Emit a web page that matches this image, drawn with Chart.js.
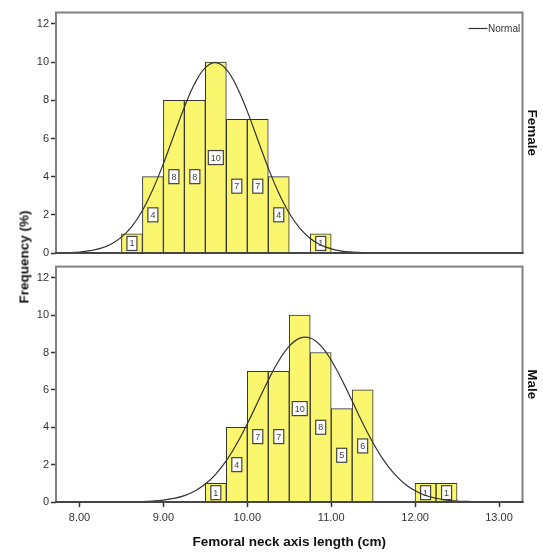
<!DOCTYPE html>
<html>
<head>
<meta charset="utf-8">
<script src="https://cdn.jsdelivr.net/npm/chart.js@4.4.1/dist/chart.umd.min.js"></script>
<style>
  html, body { margin: 0; padding: 0; background: #fff; }
  #wrap { position: relative; width: 543px; height: 554px; overflow: hidden; }
  #chartFemale { position: absolute; left: 0; top: 0; }
  #chartMale { position: absolute; left: 0; top: 258px; }
  #ytitle {
    position: absolute; left: 24px; top: 257px;
    transform: translate(-50%, -50%) rotate(-90deg);
    font: bold 13.5px 'Liberation Sans', Arial, sans-serif;
    color: #111; white-space: nowrap;
  }
</style>
</head>
<body>
<div id="wrap">
  <canvas id="chartFemale" width="543" height="262"></canvas>
  <canvas id="chartMale" width="543" height="296"></canvas>
  <div id="ytitle">Frequency (%)</div>
</div>
<script>
// Histogram bins (width 0.25 cm), midpoints and heights
const femaleMids = [8.625, 8.875, 9.125, 9.375, 9.625, 9.875, 10.125, 10.375, 10.875];
const femaleFreq = [1, 4, 8, 8, 10, 7, 7, 4, 1];
const maleMids = [9.625, 9.875, 10.125, 10.375, 10.625, 10.875, 11.125, 11.375, 12.125, 12.375];
const maleFreq = [1, 4, 7, 7, 10, 8, 5, 6, 1, 1];

// Normal curves
const curveX = [7.75, 7.875, 8, 8.125, 8.25, 8.375, 8.5, 8.625, 8.75, 8.875, 9, 9.125, 9.25, 9.375, 9.5,
  9.625, 9.75, 9.875, 10, 10.125, 10.25, 10.375, 10.5, 10.625, 10.75, 10.875, 11, 11.125, 11.25, 11.375,
  11.5, 11.625, 11.75, 11.875, 12, 12.125, 12.25, 12.375, 12.5, 12.625, 12.75, 12.875, 13, 13.125, 13.25];
const femaleCurve = [0.01, 0.02, 0.05, 0.12, 0.24, 0.46, 0.83, 1.40, 2.23, 3.34, 4.68, 6.17, 7.64, 8.89, 9.71,
  9.97, 9.62, 8.71, 7.42, 5.93, 4.45, 3.14, 2.08, 1.30, 0.76, 0.42, 0.22, 0.10, 0.05, 0.02,
  0.01, 0, 0, 0, 0, 0, 0, 0, 0, 0, 0, 0, 0, 0, 0];
const maleCurve = [0, 0, 0, 0, 0, 0, 0.01, 0.01, 0.02, 0.05, 0.10, 0.19, 0.34, 0.59, 0.96,
  1.49, 2.21, 3.12, 4.19, 5.35, 6.52, 7.56, 8.34, 8.77, 8.78, 8.37, 7.59, 6.56, 5.40, 4.23,
  3.16, 2.24, 1.52, 0.98, 0.60, 0.35, 0.20, 0.10, 0.05, 0.03, 0.01, 0.01, 0, 0, 0];

const xTicks = [8, 9, 10, 11, 12, 13];
const yTicks = [0, 2, 4, 6, 8, 10, 12];

const FONT = "'Liberation Sans', Arial, sans-serif";
Chart.defaults.font.family = FONT;
Chart.defaults.color = '#333';

// cadre, étiquettes des barres, légende et nom du panneau
const panelPlugin = {
  id: 'panel',
  afterDatasetDraw(chart, args) {
    if (args.meta.type !== 'bar') return;
    const ctx = chart.ctx;
    const xs = chart.scales.x, ys = chart.scales.y;
    const pts = chart.data.datasets[args.index].data;
    ctx.save();
    ctx.font = '9px ' + FONT;
    ctx.textAlign = 'center';
    ctx.textBaseline = 'middle';
    pts.forEach(p => {
      const cx = xs.getPixelForValue(p.x);
      const cy = ys.getPixelForValue(p.y / 2);
      const txt = String(p.y);
      const w = ctx.measureText(txt).width + 5;
      const h = 14;
      ctx.fillStyle = '#fff';
      ctx.fillRect(cx - w / 2, cy - h / 2, w, h);
      ctx.strokeStyle = '#444';
      ctx.lineWidth = 1.2;
      ctx.strokeRect(cx - w / 2, cy - h / 2, w, h);
      ctx.fillStyle = '#444';
      ctx.fillText(txt, cx, cy + 0.5);
    });
    ctx.restore();
  },
  afterDraw(chart, args, opts) {
    const {ctx, chartArea: a} = chart;
    ctx.save();
    ctx.strokeStyle = '#808080';
    ctx.lineWidth = 2;
    ctx.strokeRect(a.left, a.top, a.right - a.left, a.bottom - a.top);
    ctx.strokeStyle = '#333';
    ctx.lineWidth = 1.5;
    ctx.beginPath();
    ctx.moveTo(a.left - 1, a.bottom);
    ctx.lineTo(a.right + 1, a.bottom);
    ctx.stroke();
    if (opts.legend) {
      // légende "Normal" en haut à droite
      ctx.strokeStyle = '#333';
      ctx.lineWidth = 1.2;
      ctx.beginPath();
      ctx.moveTo(a.right - 54, a.top + 16);
      ctx.lineTo(a.right - 35, a.top + 16);
      ctx.stroke();
      ctx.font = '10px ' + FONT;
      ctx.fillStyle = '#333';
      ctx.textAlign = 'left';
      ctx.textBaseline = 'middle';
      ctx.fillText(opts.legend, a.right - 34.5, a.top + 16.5);
    }
    ctx.translate(532, (a.top + a.bottom) / 2);
    ctx.rotate(Math.PI / 2);
    ctx.font = 'bold 13.5px ' + FONT;
    ctx.fillStyle = '#111';
    ctx.textAlign = 'center';
    ctx.textBaseline = 'middle';
    ctx.fillText(opts.label, 0, 0);
    ctx.restore();
  }
};

function makeChart(id, mids, freq, curve, label, isBottom) {
  return new Chart(document.getElementById(id), {
    type: 'bar',
    data: {
      datasets: [{
        type: 'line',
        label: 'Normal',
        data: curveX.map((x, i) => ({x: x, y: curve[i]})),
        borderColor: '#333',
        borderWidth: 1.2,
        pointRadius: 0,
        tension: 0.4,
        fill: false,
        order: 1
      }, {
        type: 'bar',
        label: 'Frequency',
        data: mids.map((x, i) => ({x: x, y: freq[i]})),
        backgroundColor: '#faf66e',
        borderColor: '#333',
        borderWidth: 1,
        barPercentage: 1,
        categoryPercentage: 1,
        order: 2
      }]
    },
    options: {
      responsive: false,
      animation: false,
      layout: {
        padding: {left: 0, right: 20.5, top: isBottom ? 2.7 : 12.5, bottom: isBottom ? 0 : 9}
      },
      scales: {
        x: {
          type: 'linear',
          min: 7.72,
          max: 13.28,
          offset: false,
          display: isBottom,
          afterBuildTicks: s => { s.ticks = xTicks.map(v => ({value: v})); },
          afterFit: s => { if (isBottom) s.height = 52; },
          ticks: {
            callback: v => v.toFixed(2),
            font: {size: 11},
            color: '#333',
            padding: 4,
            maxRotation: 0,
            autoSkip: false
          },
          grid: {offset: false, drawOnChartArea: false, tickLength: 5, tickColor: '#333', tickWidth: 1.5},
          border: {display: false},
          title: {
            display: isBottom,
            text: 'Femoral neck axis length (cm)',
            font: {size: 13.5, weight: 'bold'},
            color: '#111',
            padding: {top: 0, bottom: 4}
          }
        },
        y: {
          min: 0,
          max: 12.6,
          afterBuildTicks: s => { s.ticks = yTicks.map(v => ({value: v})); },
          afterFit: s => { s.width = 56; },
          ticks: {font: {size: 11}, color: '#333', padding: 2},
          grid: {drawOnChartArea: false, tickLength: 5, tickColor: '#333', tickWidth: 1.5},
          border: {display: false}
        }
      },
      plugins: {
        tooltip: {enabled: false},
        legend: {display: false},
        panel: {label: label, legend: isBottom ? '' : 'Normal'}
      }
    },
    plugins: [panelPlugin]
  });
}

makeChart('chartFemale', femaleMids, femaleFreq, femaleCurve, 'Female', false);
makeChart('chartMale', maleMids, maleFreq, maleCurve, 'Male', true);
</script>
</body>
</html>
